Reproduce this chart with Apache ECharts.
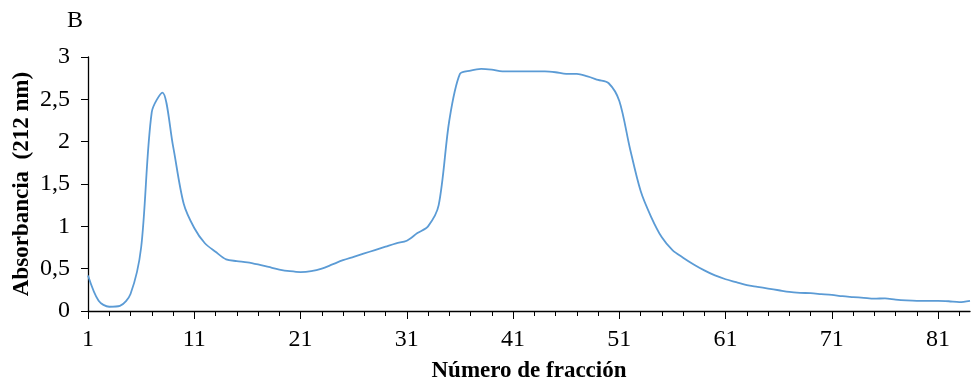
<!DOCTYPE html>
<html>
<head>
<meta charset="utf-8">
<script src="https://cdn.jsdelivr.net/npm/echarts@6/dist/echarts.min.js"></script>
<style>
  html, body { margin: 0; padding: 0; background: #fff; }
  #chart { width: 975px; height: 383px; }
</style>
</head>
<body>
<div id="chart"></div>
<script>
// número de fracción 1..84
const fractions = []
for (let i = 1; i <= 84; i++) fractions.push(String(i))

// absorbancia a 212 nm
const absorbance = [
  0.42, 0.12, 0.05, 0.06, 0.20, 0.75, 2.35, 2.58, 1.95, 1.27,
  0.98, 0.80, 0.70, 0.61, 0.59, 0.575, 0.55, 0.52, 0.49, 0.47,
  0.46, 0.47, 0.50, 0.55, 0.60, 0.64, 0.68, 0.72, 0.76, 0.80,
  0.83, 0.92, 1.00, 1.25, 2.25, 2.80, 2.84, 2.86, 2.85, 2.83,
  2.83, 2.83, 2.83, 2.83, 2.82, 2.80, 2.80, 2.77, 2.73, 2.69,
  2.48, 1.92, 1.42, 1.11, 0.87, 0.72, 0.63, 0.55, 0.48, 0.42,
  0.375, 0.34, 0.305, 0.285, 0.265, 0.245, 0.225, 0.215, 0.21, 0.20,
  0.19, 0.175, 0.165, 0.155, 0.145, 0.15, 0.135, 0.125, 0.12, 0.12,
  0.12, 0.115, 0.105, 0.12
]

const FONT = 'Liberation Serif'

const chart = echarts.init(document.getElementById('chart'))
chart.setOption({
  animation: false,
  title: {
    text: 'B', left: 62, top: 4,
    textStyle: { fontFamily: FONT, fontSize: 24, fontWeight: 'normal', color: '#000' }
  },
  grid: { left: 88, right: 5, top: 57, bottom: 72, outerBoundsMode: 'none' },
  xAxis: [
    {
      type: 'category',
      data: fractions,
      boundaryGap: false,
      name: 'Número de fracción',
      nameLocation: 'middle',
      nameGap: 49,
      nameMoveOverlap: false,
      nameTextStyle: { fontFamily: FONT, fontSize: 23, fontWeight: 'bold', color: '#000' },
      axisLine: { lineStyle: { color: '#000', width: 1.3 } },
      axisTick: { interval: 1, length: 5, lineStyle: { color: '#000' } },
      axisLabel: { interval: 9, margin: 17, fontFamily: FONT, fontSize: 24, color: '#000' },
      splitLine: { show: false }
    },
    {
      // ticks largos en las etiquetas
      type: 'category',
      data: fractions,
      boundaryGap: false,
      position: 'bottom',
      axisLine: { show: false },
      axisTick: { interval: 9, length: 8, lineStyle: { color: '#000' } },
      axisLabel: { show: false },
      splitLine: { show: false }
    }
  ],
  yAxis: {
    type: 'value',
    min: 0, max: 3, interval: 0.5,
    name: 'Absorbancia  (212 nm)',
    nameLocation: 'middle',
    nameGap: 54,
    nameMoveOverlap: false,
    nameTextStyle: { fontFamily: FONT, fontSize: 23, fontWeight: 'bold', color: '#000' },
    axisLine: { show: true, lineStyle: { color: '#000', width: 1.3 } },
    axisTick: { show: true, length: 7, lineStyle: { color: '#000' } },
    axisLabel: {
      margin: 18, fontFamily: FONT, fontSize: 24, color: '#000',
      formatter: v => String(v).replace('.', ',')
    },
    splitLine: { show: false }
  },
  series: [{
    type: 'line',
    data: absorbance,
    smooth: 0.3,
    symbol: 'none',
    lineStyle: { color: '#5B9BD5', width: 1.8 }
  }]
})
</script>
</body>
</html>
